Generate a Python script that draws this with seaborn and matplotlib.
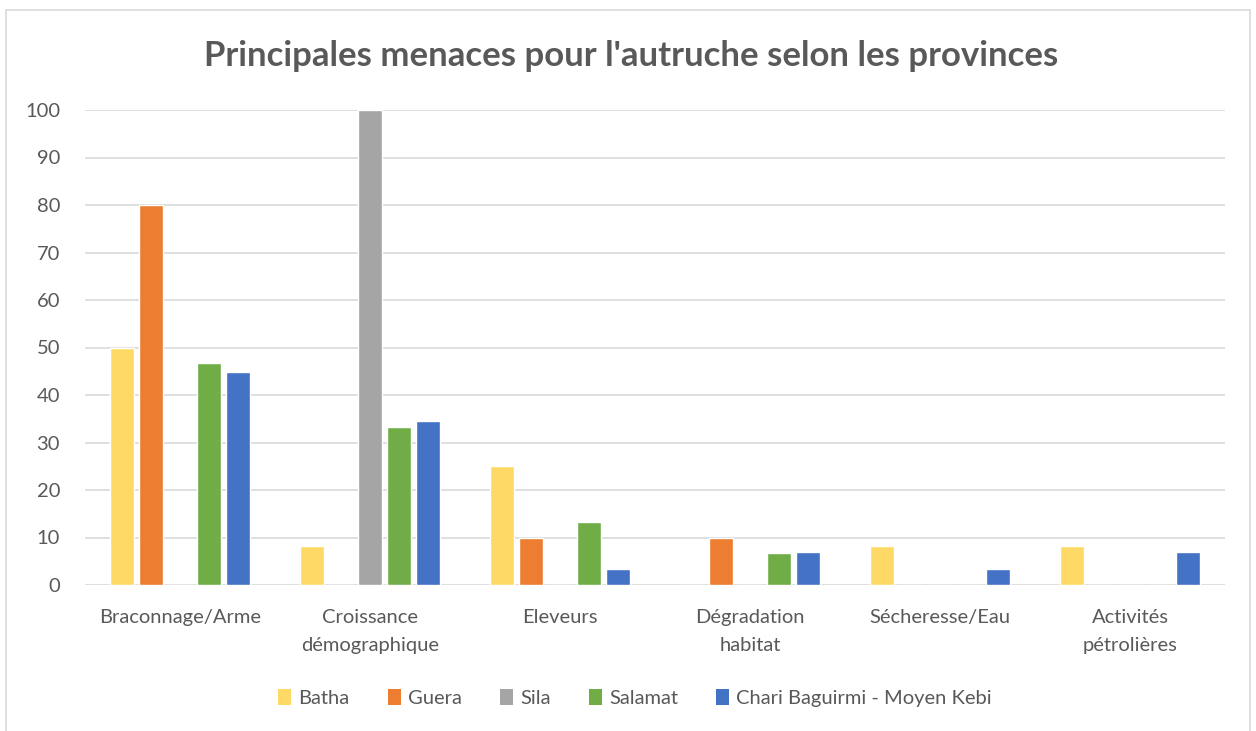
import matplotlib
matplotlib.use("Agg")
import matplotlib.pyplot as plt
import seaborn as sns
import pandas as pd
from matplotlib.patches import Rectangle, Patch

categories = ["Braconnage/Arme", "Croissance\ndémographique", "Eleveurs",
              "Dégradation\nhabitat", "Sécheresse/Eau", "Activités\npétrolières"]
provinces = ["Batha", "Guera", "Sila", "Salamat", "Chari Baguirmi - Moyen Kebi"]
batha = [50, 8.3, 25, 0, 8.3, 8.3]
guera = [80, 0, 10, 10, 0, 0]
sila = [0, 100, 0, 0, 0, 0]
salamat = [46.7, 33.3, 13.3, 6.7, 0, 0]
chari = [44.8, 34.5, 3.4, 6.9, 3.4, 6.9]
colors = ["#FFD966", "#ED7D31", "#A5A5A5", "#70AD47", "#4472C4"]
yticks = list(range(0, 101, 10))

rows = []
for prov, vals in zip(provinces, [batha, guera, sila, salamat, chari]):
    for c, v in zip(categories, vals):
        rows.append({"cat": c, "prov": prov, "val": v})
df = pd.DataFrame(rows)

sns.set_theme(style="white")
plt.rcParams['font.family'] = ['Lato', 'DejaVu Sans']
txt = "#595959"

fig = plt.figure(figsize=(12.56, 7.31), dpi=100)
ax = fig.add_axes([85/1256, 1-585/731, 1140/1256, 475/731])
sns.barplot(data=df, x="cat", y="val", hue="prov", order=categories,
            hue_order=provinces, palette=colors, width=0.763, gap=0.2,
            ax=ax, legend=False, saturation=1)
ax.set_ylim(0, 100)
ax.set_xlim(-0.5, len(categories) - 0.5)
ax.set_yticks(yticks)
ax.set_yticklabels([str(t) for t in yticks], fontsize=14.5, color=txt)
ax.set_xticklabels(categories, fontsize=14.5, color=txt, linespacing=1.8)
ax.tick_params(axis='y', length=0, pad=18)
ax.tick_params(axis='x', length=0, pad=17)
ax.grid(axis='y', color="#D9D9D9", linewidth=1.2)
ax.set_axisbelow(True)
for s in ax.spines.values():
    s.set_visible(False)
ax.set_xlabel("")
ax.set_ylabel("")

fig.text(631/1256, 1-56/731, "Principales menaces pour l'autruche selon les provinces",
         ha='center', va='center', fontsize=25, fontweight='bold', color=txt)

handles = [Patch(facecolor=c, edgecolor='none') for c in colors]
fig.legend(handles, provinces, loc='center', bbox_to_anchor=(635/1256, 1-698/731),
           ncol=5, frameon=False, fontsize=14.5, labelcolor=txt, handlelength=0.65,
           handleheight=0.8, handletextpad=0.35, columnspacing=1.9)

fig.patches.append(Rectangle((6/1256, -0.01), 1244/1256, 1-10/731 + 0.01,
                             transform=fig.transFigure, fill=False,
                             edgecolor="#D9D9D9", linewidth=1.2))

fig.savefig("out.png", dpi=100)
